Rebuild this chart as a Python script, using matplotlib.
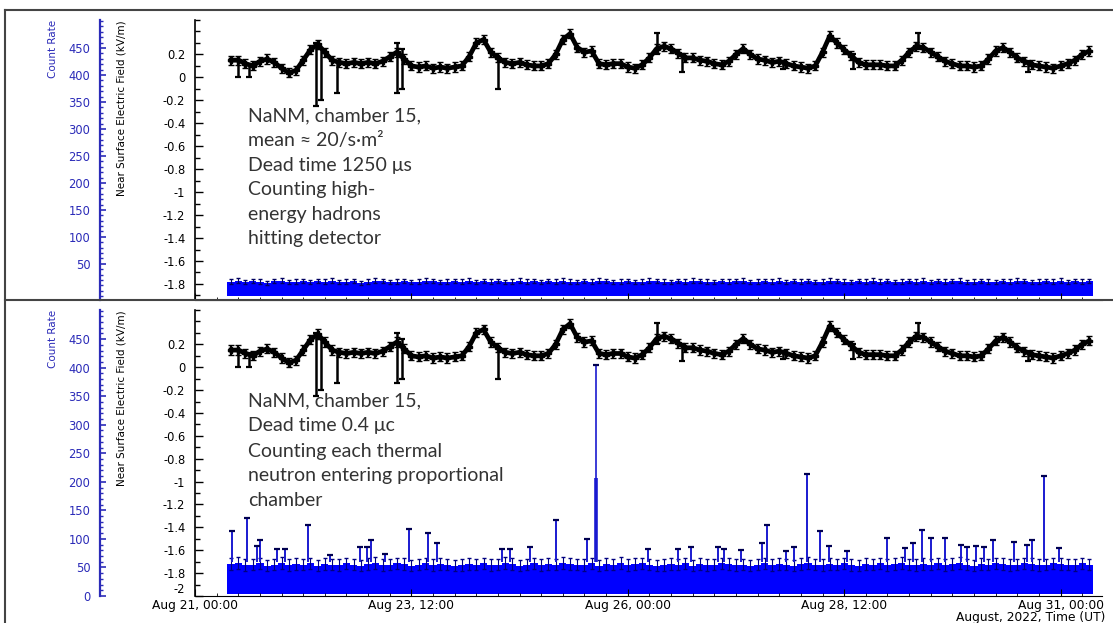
import datetime
import matplotlib
matplotlib.use('Agg')
import matplotlib.pyplot as plt
from matplotlib import dates
from matplotlib.lines import Line2D
from matplotlib.ticker import MultipleLocator, FixedLocator, FuncFormatter

plt.rcParams['axes.unicode_minus'] = False

W, H = 1113, 623
START = datetime.datetime(2022, 8, 21, 0, 0)
FIRST_H = 10   # first sample, hours after Aug 21 00:00
STEP_H = 2     # sampling step, hours

# near surface electric field, kV/m (same record in both panels)
e_field = [
    0.15, 0.15, 0.12, 0.10, 0.14, 0.16, 0.13,
    0.08, 0.04, 0.06, 0.15, 0.24, 0.29, 0.22, 0.15, 0.13, 0.12, 0.13, 0.12,
    0.13, 0.12, 0.14, 0.18, 0.22, 0.16, 0.10, 0.09, 0.10, 0.08, 0.09, 0.08,
    0.09, 0.10, 0.18, 0.30, 0.33, 0.22, 0.17, 0.13, 0.12, 0.13, 0.11, 0.10,
    0.10, 0.12, 0.20, 0.33, 0.38, 0.26, 0.22, 0.23, 0.12, 0.11, 0.12, 0.12,
    0.09, 0.08, 0.11, 0.17, 0.25, 0.27, 0.25, 0.21, 0.17, 0.17, 0.15, 0.14,
    0.12, 0.11, 0.14, 0.20, 0.25, 0.20, 0.16, 0.15, 0.13, 0.14, 0.12, 0.10,
    0.09, 0.08, 0.10, 0.22, 0.36, 0.30, 0.24, 0.19, 0.13, 0.11, 0.11, 0.11,
    0.10, 0.10, 0.15, 0.22, 0.27, 0.26, 0.22, 0.18, 0.14, 0.12, 0.10, 0.10,
    0.09, 0.10, 0.16, 0.23, 0.26, 0.22, 0.17, 0.14, 0.11, 0.10, 0.09, 0.08,
    0.10, 0.12, 0.15, 0.20, 0.23,
]
E_ERR = 0.04

# short field excursions: hour, low end, high end
e_spike_h = [12, 15, 33.5, 35, 39.5, 56, 57.5, 84, 128, 135, 163, 182.5, 200.5, 231]
e_spike_lo = [0.00, 0.00, -0.25, -0.20, -0.14, -0.14, -0.10, -0.10, 0.20, 0.05, 0.07, 0.07, 0.25, 0.05]
e_spike_hi = [0.15, 0.12, 0.30, 0.25, 0.14, 0.30, 0.25, 0.18, 0.39, 0.20, 0.14, 0.20, 0.39, 0.14]

# NaNM chamber 15, dead time 1250 us
nanm_rate = [
    17, 19, 16, 18, 17, 15, 18, 19, 16, 17, 18, 16,
    18, 17, 19, 16, 17, 18, 15, 17, 19, 18, 16, 17,
    18, 16, 17, 19, 18, 16, 17, 18, 17, 19, 16, 18,
    17, 18, 16, 17, 19, 17, 18, 16, 18, 17, 19, 17,
    16, 18, 17, 19, 18, 16, 17, 18, 16, 17, 19, 18,
    17, 16, 18, 17, 19, 18, 17, 16, 18, 17, 18, 19,
    16, 17, 18, 17, 19, 16, 18, 17, 18, 16, 17, 19,
    18, 17, 16, 18, 17, 19, 17, 18, 16, 17, 18, 17,
    19, 16, 18, 17, 18, 19, 16, 17, 18, 17, 16, 18,
    17, 19, 18, 16, 17, 18, 17, 19, 16, 18, 17, 18,
]
NANM_ERR = 4
NANM_FLOOR = -10

# thermal neutron chamber, dead time 0.4 us
thermal_rate = [
    56, 58, 54, 55, 57, 53, 55, 58, 54, 56, 55, 57,
    53, 56, 55, 54, 57, 55, 53, 56, 58, 54, 55, 57,
    56, 53, 55, 57, 54, 56, 55, 53, 54, 56, 55, 57,
    54, 55, 58, 56, 53, 55, 57, 54, 56, 55, 58, 56,
    55, 54, 57, 53, 56, 55, 58, 54, 56, 57, 55, 53,
    54, 56, 55, 57, 53, 56, 54, 55, 57, 56, 54, 55,
    53, 55, 57, 54, 56, 55, 53, 56, 58, 55, 54, 56,
    55, 57, 54, 53, 56, 55, 57, 54, 56, 58, 55, 54,
    56, 55, 57, 54, 56, 58, 55, 53, 56, 55, 57, 56,
    54, 55, 57, 56, 54, 55, 57, 56, 55, 54, 57, 55,
]
THERMAL_ERR = 10
THERMAL_FLOOR = 4
SPIKE_BASE = 60

# isolated bursts in the thermal channel: hour, top of error bar
t_spike_h = [10.3, 14.4, 17.2, 18.0, 22.8, 25.0, 31.4, 37.5, 45.8, 47.7, 48.8, 52.7,
             59.4, 64.7, 67.2, 85.2, 87.4, 93.0, 100.2, 108.8, 125.7, 133.8, 137.6,
             144.9, 146.8, 151.5, 157.3, 158.5, 164.0, 166.2, 169.6, 173.4, 175.9,
             180.7, 192.0, 197.0, 199.2, 201.7, 204.0, 208.1, 212.3, 214.2, 216.7,
             218.7, 221.2, 227.0, 230.6, 232.0, 235.3, 239.5]
t_spike_top = [114, 136, 88, 98, 83, 83, 125, 71, 86, 86, 98, 74,
               118, 110, 92, 83, 83, 86, 134, 100, 83, 83, 86,
               86, 83, 80, 93, 125, 78, 86, 213, 113, 88,
               79, 102, 84, 93, 116, 102, 102, 90, 86, 88,
               86, 98, 95, 90, 98, 211, 84]
big_spike_h = 111.3
big_spike_value = 206
big_spike_top = 405

count_ticks = [0, 50, 100, 150, 200, 250, 300, 350, 400, 450]
field_ticks = [-2, -1.8, -1.6, -1.4, -1.2, -1, -0.8, -0.6, -0.4, -0.2, 0, 0.2]
date_ticks_h = [0, 60, 120, 180, 240]

BLUE = '#0000ff'
AXBLUE = '#2b2bb8'
TEXT = '#333333'
NARROW = ['Liberation Sans Narrow', 'DejaVu Sans']
NOTE_FONT = ['Lato', 'DejaVu Sans']


def at(h):
    return dates.date2num(START + datetime.timedelta(hours=h))


times = [at(FIRST_H + STEP_H * i) for i in range(len(e_field))]
step_days = STEP_H / 24.0


def rect(top_px, bottom_px, left_px=195, right_px=1102):
    return [left_px / W, 1 - bottom_px / H, (right_px - left_px) / W, (bottom_px - top_px) / H]


def fmt_num(v, pos):
    return '%g' % round(v, 2)


def make_panel(top_px, bottom_px, c_lim, e_lim, c_ticks, e_ticks):
    axc = fig.add_axes(rect(top_px, bottom_px))
    axc.set_xlim(at(0), at(251.5))
    axc.set_ylim(*c_lim)
    for s in ['top', 'right']:
        axc.spines[s].set_visible(False)
    axc.spines['left'].set_position(('outward', 95 * 0.72))
    axc.spines['left'].set_color(AXBLUE)
    axc.spines['left'].set_linewidth(1.6)
    axc.spines['bottom'].set_color('black')
    axc.yaxis.set_major_locator(FixedLocator(c_ticks))
    axc.yaxis.set_minor_locator(MultipleLocator(10))
    axc.yaxis.set_major_formatter(FuncFormatter(fmt_num))
    axc.tick_params(axis='y', which='both', direction='in', colors=AXBLUE,
                    labelcolor=AXBLUE, labelsize=8.3, pad=7)
    axc.tick_params(axis='y', which='major', length=4.5, width=1.2)
    axc.tick_params(axis='y', which='minor', length=2.5, width=1)
    axc.xaxis.set_major_locator(FixedLocator([at(h) for h in date_ticks_h]))
    axc.xaxis.set_minor_locator(FixedLocator([at(h) for h in range(0, 252, 6)]))
    axc.xaxis.set_major_formatter(dates.DateFormatter('%b %d, %H:%M'))
    axc.tick_params(axis='x', which='both', direction='in', labelsize=8.8, pad=2)
    axc.tick_params(axis='x', which='major', length=5)
    axc.tick_params(axis='x', which='minor', length=2.5)
    axc.patch.set_alpha(0)

    axe = axc.twinx()
    axe.set_ylim(*e_lim)
    for s in ['top', 'right', 'bottom']:
        axe.spines[s].set_visible(False)
    axe.spines['left'].set_visible(True)
    axe.spines['left'].set_linewidth(1.2)
    axe.yaxis.tick_left()
    axe.yaxis.set_major_locator(FixedLocator(e_ticks))
    axe.yaxis.set_minor_locator(MultipleLocator(0.1))
    axe.yaxis.set_major_formatter(FuncFormatter(fmt_num))
    axe.tick_params(axis='y', which='both', direction='in', labelsize=8.3, pad=7)
    axe.tick_params(axis='y', which='major', length=6, width=1)
    axe.tick_params(axis='y', which='minor', length=3.5, width=1)

    # field trace
    axe.errorbar(times, e_field, yerr=E_ERR, fmt='-', color='black', lw=3.4,
                 marker='P', ms=5, elinewidth=1.6, capsize=2, zorder=3)
    sh = [at(h) for h in e_spike_h]
    axe.vlines(sh, e_spike_lo, e_spike_hi, color='black', lw=1.8, zorder=3)
    axe.plot(sh, e_spike_lo, ls='none', marker='_', ms=5, mew=1.6, color='black')
    axe.plot(sh, e_spike_hi, ls='none', marker='_', ms=5, mew=1.6, color='black')

    fig.text(53 / W, 1 - top_px / H, 'Count Rate', rotation=90, color=AXBLUE,
             fontsize=7.5, family=NARROW, ha='center', va='top')
    fig.text(122 / W, 1 - top_px / H, 'Near Surface Electric Field (kV/m)', rotation=90,
             color='black', fontsize=7.5, family=NARROW, ha='center', va='top')
    return axc, axe


fig = plt.figure(figsize=(W / 100, H / 100), dpi=100)

# top panel
axc1, axe1 = make_panel(20, 300, (-17, 502), (-1.94, 0.5), count_ticks[1:], field_ticks[1:])
axc1.tick_params(axis='x', labelbottom=False)
axc1.bar(times, [v - NANM_FLOOR for v in nanm_rate], bottom=NANM_FLOOR, width=step_days,
         color=BLUE, linewidth=0, zorder=1)
axc1.errorbar(times, nanm_rate, yerr=NANM_ERR, fmt='none', ecolor='#000060',
              elinewidth=0.8, capsize=1.5, zorder=2)

# bottom panel
axc2, axe2 = make_panel(310, 596, (0, 501), (-2.0, 0.5), count_ticks, field_ticks)
axc2.bar(times, [v - THERMAL_FLOOR for v in thermal_rate], bottom=THERMAL_FLOOR,
         width=step_days, color=BLUE, linewidth=0, zorder=1)
axc2.errorbar(times, thermal_rate, yerr=THERMAL_ERR, fmt='none', ecolor='#000080',
              elinewidth=0.8, capsize=1.5, zorder=2)
sp = [at(h) for h in t_spike_h]
axc2.vlines(sp, SPIKE_BASE, t_spike_top, color='#1a1ad0', lw=1.4, zorder=2)
axc2.plot(sp, t_spike_top, ls='none', marker='_', ms=5, mew=1.6, color='#000050', zorder=2)
axc2.vlines(at(big_spike_h), SPIKE_BASE, big_spike_top, color='#1a1ad0', lw=1.2, zorder=2)
axc2.vlines(at(big_spike_h), SPIKE_BASE, big_spike_value, color='#1a1ad0', lw=2.6, zorder=2)
axc2.plot([at(big_spike_h)], [big_spike_top], ls='none', marker='_', ms=5, mew=1.6,
          color='#000050', zorder=2)

# lift the lowest field label so it clears the date labels
axe2.yaxis.get_major_ticks()[0].label1.set_verticalalignment('bottom')

fig.text(1105 / W, 1 - 617 / H, 'August, 2022, Time (UT)', fontsize=8.8,
         ha='right', va='center')

# annotation blocks
top_note = ['NaNM, chamber 15,', 'mean \u2248 20/s\u00b7m\u00b2', 'Dead time 1250 \u03bcs',
            'Counting high-', 'energy hadrons', 'hitting detector']
bottom_note = ['NaNM, chamber 15,', 'Dead time 0.4 \u03bcc', 'Counting each thermal',
               'neutron entering proportional', 'chamber']
for i, line in enumerate(top_note):
    fig.text(248 / W, 1 - (116 + 24.6 * i) / H, line, fontsize=14, family=NOTE_FONT,
             color=TEXT, va='center', ha='left')
for i, line in enumerate(bottom_note):
    fig.text(248 / W, 1 - (401 + 25 * i) / H, line, fontsize=14, family=NOTE_FONT,
             color=TEXT, va='center', ha='left')

# outer frame
frame = dict(color='#444444', lw=1.5, transform=fig.transFigure)
fig.add_artist(Line2D([5 / W, 1], [1 - 10 / H, 1 - 10 / H], **frame))
fig.add_artist(Line2D([5 / W, 5 / W], [0, 1 - 10 / H], **frame))
fig.add_artist(Line2D([5 / W, 1], [1 - 300 / H, 1 - 300 / H], **frame))

fig.savefig('out.png', dpi=100)
